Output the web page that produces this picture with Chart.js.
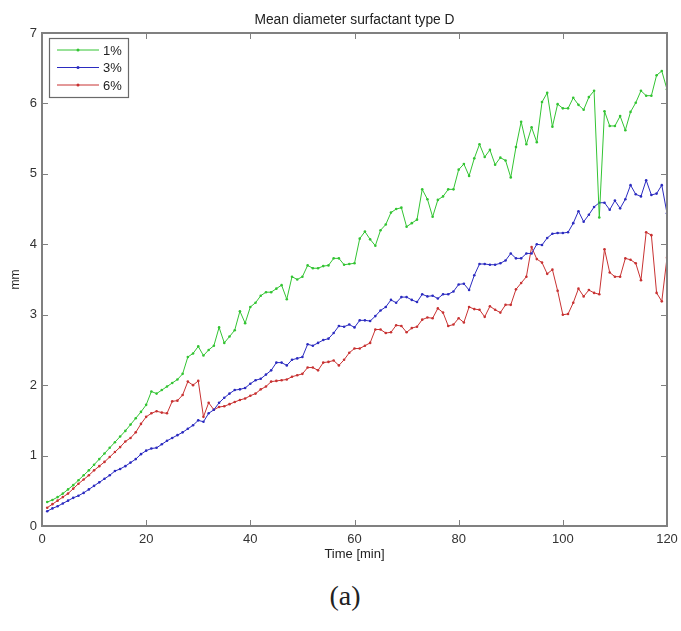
<!DOCTYPE html>
<html>
<head>
<meta charset="utf-8">
<script src="https://cdn.jsdelivr.net/npm/chart.js@4/dist/chart.umd.min.js"></script>
<style>
  html, body { margin: 0; padding: 0; background: #fff; }
  #wrap { position: relative; width: 681px; height: 631px; overflow: hidden; }
  #chart { position: absolute; left: 0; top: 0; }
  #caption { position: absolute; left: 0; top: 580px; width: 690px; text-align: center;
    font-family: "Liberation Serif", "DejaVu Serif", serif; font-size: 28px; color: #222; }
</style>
</head>
<body>
<div id="wrap">
  <canvas id="chart" width="681" height="575"></canvas>
  <div id="caption">(a)</div>
</div>
<script>
// ---- data (one sample per minute) ----
const MINUTES = [
  1, 2, 3, 4, 5, 6, 7, 8, 9, 10, 11, 12, 13, 14, 15, 16, 17, 18, 19, 20,
  21, 22, 23, 24, 25, 26, 27, 28, 29, 30, 31, 32, 33, 34, 35, 36, 37, 38, 39, 40,
  41, 42, 43, 44, 45, 46, 47, 48, 49, 50, 51, 52, 53, 54, 55, 56, 57, 58, 59, 60,
  61, 62, 63, 64, 65, 66, 67, 68, 69, 70, 71, 72, 73, 74, 75, 76, 77, 78, 79, 80,
  81, 82, 83, 84, 85, 86, 87, 88, 89, 90, 91, 92, 93, 94, 95, 96, 97, 98, 99, 100,
  101, 102, 103, 104, 105, 106, 107, 108, 109, 110, 111, 112, 113, 114, 115, 116, 117, 118, 119, 120
];

const CONC_1 = [
  0.34, 0.37, 0.41, 0.46, 0.52, 0.58, 0.65, 0.72, 0.79, 0.87,
  0.95, 1.03, 1.11, 1.19, 1.27, 1.35, 1.44, 1.53, 1.62, 1.72,
  1.91, 1.88, 1.93, 1.98, 2.03, 2.08, 2.16, 2.40, 2.45, 2.55,
  2.42, 2.50, 2.56, 2.82, 2.60, 2.69, 2.78, 3.05, 2.88, 3.11,
  3.17, 3.27, 3.32, 3.32, 3.37, 3.42, 3.22, 3.54, 3.50, 3.54,
  3.70, 3.66, 3.66, 3.69, 3.70, 3.80, 3.80, 3.71, 3.72, 3.73,
  4.08, 4.18, 4.07, 3.98, 4.20, 4.28, 4.45, 4.50, 4.52, 4.25,
  4.30, 4.35, 4.78, 4.64, 4.39, 4.63, 4.68, 4.78, 4.78, 5.06,
  5.14, 4.97, 5.22, 5.42, 5.24, 5.34, 5.13, 5.23, 5.19, 4.95,
  5.38, 5.74, 5.42, 5.66, 5.45, 6.02, 6.15, 5.67, 5.99, 5.93,
  5.93, 6.08, 5.98, 5.91, 6.09, 6.18, 4.38, 5.89, 5.68, 5.68,
  5.82, 5.62, 5.88, 6.01, 6.18, 6.11, 6.11, 6.40, 6.46, 6.20
];

const CONC_3 = [
  0.21, 0.25, 0.28, 0.32, 0.36, 0.40, 0.43, 0.47, 0.52, 0.57,
  0.62, 0.67, 0.72, 0.78, 0.81, 0.85, 0.90, 0.95, 1.02, 1.07,
  1.10, 1.11, 1.16, 1.21, 1.25, 1.29, 1.33, 1.38, 1.43, 1.50,
  1.48, 1.60, 1.65, 1.75, 1.82, 1.88, 1.93, 1.94, 1.96, 2.02,
  2.07, 2.09, 2.15, 2.21, 2.32, 2.32, 2.28, 2.36, 2.38, 2.40,
  2.58, 2.56, 2.60, 2.64, 2.66, 2.74, 2.84, 2.83, 2.86, 2.82,
  2.92, 2.92, 2.91, 2.98, 3.06, 3.11, 3.21, 3.17, 3.25, 3.25,
  3.21, 3.18, 3.29, 3.26, 3.27, 3.23, 3.29, 3.29, 3.33, 3.43,
  3.44, 3.35, 3.56, 3.72, 3.72, 3.71, 3.71, 3.73, 3.77, 3.87,
  3.80, 3.80, 3.87, 3.87, 4.00, 3.99, 4.09, 4.15, 4.16, 4.16,
  4.17, 4.30, 4.47, 4.32, 4.42, 4.53, 4.59, 4.59, 4.49, 4.62,
  4.51, 4.64, 4.84, 4.71, 4.68, 4.91, 4.70, 4.72, 4.84, 4.44
];

const CONC_6 = [
  0.26, 0.31, 0.36, 0.41, 0.46, 0.53, 0.60, 0.66, 0.72, 0.79,
  0.85, 0.91, 0.98, 1.05, 1.12, 1.20, 1.25, 1.33, 1.45, 1.55,
  1.60, 1.63, 1.61, 1.60, 1.77, 1.78, 1.86, 2.05, 2.00, 2.06,
  1.55, 1.75, 1.65, 1.69, 1.70, 1.73, 1.76, 1.79, 1.81, 1.85,
  1.88, 1.94, 1.98, 2.05, 2.06, 2.07, 2.08, 2.12, 2.14, 2.16,
  2.25, 2.25, 2.21, 2.32, 2.33, 2.35, 2.28, 2.36, 2.46, 2.52,
  2.52, 2.56, 2.60, 2.79, 2.79, 2.74, 2.75, 2.85, 2.84, 2.75,
  2.81, 2.83, 2.93, 2.96, 2.95, 3.09, 3.03, 2.84, 2.86, 2.95,
  2.89, 3.11, 3.08, 3.07, 2.97, 3.12, 3.07, 3.03, 3.14, 3.14,
  3.36, 3.45, 3.54, 3.96, 3.79, 3.74, 3.58, 3.64, 3.34, 3.00,
  3.01, 3.17, 3.37, 3.26, 3.35, 3.31, 3.29, 3.93, 3.60, 3.54,
  3.54, 3.80, 3.78, 3.73, 3.49, 4.17, 4.13, 3.31, 3.19, 3.81
];

const SERIES_LABELS = ['1%', '3%', '6%'];
const SERIES_COLORS = ['#33c433', '#2b2bc0', '#c83232'];
const X_TICKS = [0, 20, 40, 60, 80, 100, 120];
const Y_TICKS = [0, 1, 2, 3, 4, 5, 6, 7];
const TITLE = 'Mean diameter surfactant type D';

const FONT = '"Liberation Sans", Arial, Helvetica, sans-serif';
const AXIS_GREY = '#808080';

// build {x,y} points from the minute axis
const toPoints = vals => vals.map((v, i) => ({ x: MINUTES[i], y: v }));

// title centred over the plot box (not the whole canvas)
const plotTitle = {
  id: 'plotTitle',
  afterDraw(chart) {
    const { ctx, chartArea: a } = chart;
    ctx.save();
    ctx.font = '13.8px ' + FONT;
    ctx.fillStyle = '#222';
    ctx.textAlign = 'center';
    ctx.textBaseline = 'middle';
    ctx.fillText(TITLE, (a.left + a.right) / 2, 20);
    ctx.restore();
  }
};

// box around the plot + inward ticks (matlab look)
const boxAxes = {
  id: 'boxAxes',
  afterDatasetsDraw(chart) {
    const { ctx, chartArea: a, scales: { x, y } } = chart;
    ctx.save();
    ctx.strokeStyle = AXIS_GREY;
    ctx.lineWidth = 1;
    ctx.beginPath();
    for (const v of X_TICKS) {
      const px = Math.round(x.getPixelForValue(v)) + 0.5;
      ctx.moveTo(px, a.bottom); ctx.lineTo(px, a.bottom - 6);
      ctx.moveTo(px, a.top); ctx.lineTo(px, a.top + 6);
    }
    for (const v of Y_TICKS) {
      const py = Math.round(y.getPixelForValue(v)) + 0.5;
      ctx.moveTo(a.left, py); ctx.lineTo(a.left + 6, py);
      ctx.moveTo(a.right, py); ctx.lineTo(a.right - 6, py);
    }
    ctx.stroke();
    ctx.lineWidth = 2;
    ctx.strokeRect(a.left, a.top, a.right - a.left, a.bottom - a.top);
    ctx.restore();
  }
};

// legend box inside the top-left corner
const boxLegend = {
  id: 'boxLegend',
  afterDraw(chart) {
    const { ctx, chartArea: a } = chart;
    const bx = a.left + 7, by = a.top + 5, bw = 79, bh = 59;
    ctx.save();
    ctx.fillStyle = '#fff';
    ctx.fillRect(bx, by, bw, bh);
    ctx.strokeStyle = '#6a6a6a';
    ctx.lineWidth = 1.2;
    ctx.strokeRect(bx + 0.5, by + 0.5, bw, bh);
    ctx.font = '13px ' + FONT;
    ctx.textBaseline = 'middle';
    chart.data.datasets.forEach((ds, i) => {
      const ry = by + 12 + i * 17.5;
      ctx.strokeStyle = ds.borderColor;
      ctx.lineWidth = 1;
      ctx.beginPath(); ctx.moveTo(bx + 8, ry); ctx.lineTo(bx + 50, ry); ctx.stroke();
      ctx.fillStyle = ds.borderColor;
      ctx.beginPath(); ctx.arc(bx + 29, ry, 1.5, 0, Math.PI * 2); ctx.fill();
      ctx.fillStyle = '#222';
      ctx.fillText(ds.label, bx + 54, ry + 1);
    });
    ctx.restore();
  }
};

const series = [CONC_1, CONC_3, CONC_6];

new Chart(document.getElementById('chart'), {
  type: 'line',
  data: {
    datasets: series.map((vals, i) => ({
      label: SERIES_LABELS[i],
      data: toPoints(vals),
      borderColor: SERIES_COLORS[i],
      backgroundColor: SERIES_COLORS[i],
      borderWidth: 1,
      pointRadius: 1.3,
      pointBorderWidth: 0,
      tension: 0,
      fill: false,
    })),
  },
  options: {
    responsive: false,
    animation: false,
    layout: { padding: { left: 0, right: 14, top: 33, bottom: 0 } },
    plugins: {
      legend: { display: false },
      tooltip: { enabled: false },
      title: { display: false },
    },
    scales: {
      x: {
        type: 'linear',
        min: 0, max: 120,
        afterBuildTicks: s => { s.ticks = X_TICKS.map(v => ({ value: v })); },
        afterFit: s => { s.height = 49; s.paddingLeft = 0; s.paddingRight = 0; },
        grid: { display: false, drawTicks: false },
        border: { display: false },
        ticks: { color: '#333', font: { family: FONT, size: 13 }, padding: 6, maxRotation: 0 },
        title: { display: true, text: 'Time [min]', color: '#222', font: { family: FONT, size: 13 }, padding: { top: 0, bottom: 13 } },
      },
      y: {
        min: 0, max: 7,
        afterBuildTicks: s => { s.ticks = Y_TICKS.map(v => ({ value: v })); },
        afterFit: s => { s.width = 42; s.paddingTop = 0; s.paddingBottom = 0; },
        grid: { display: false, drawTicks: false },
        border: { display: false },
        ticks: { color: '#333', font: { family: FONT, size: 13 }, padding: 5 },
        title: { display: true, text: 'mm', color: '#222', font: { family: FONT, size: 12 }, padding: { top: 8, bottom: 0 } },
      },
    },
  },
  plugins: [boxAxes, boxLegend, plotTitle],
});
</script>
</body>
</html>
